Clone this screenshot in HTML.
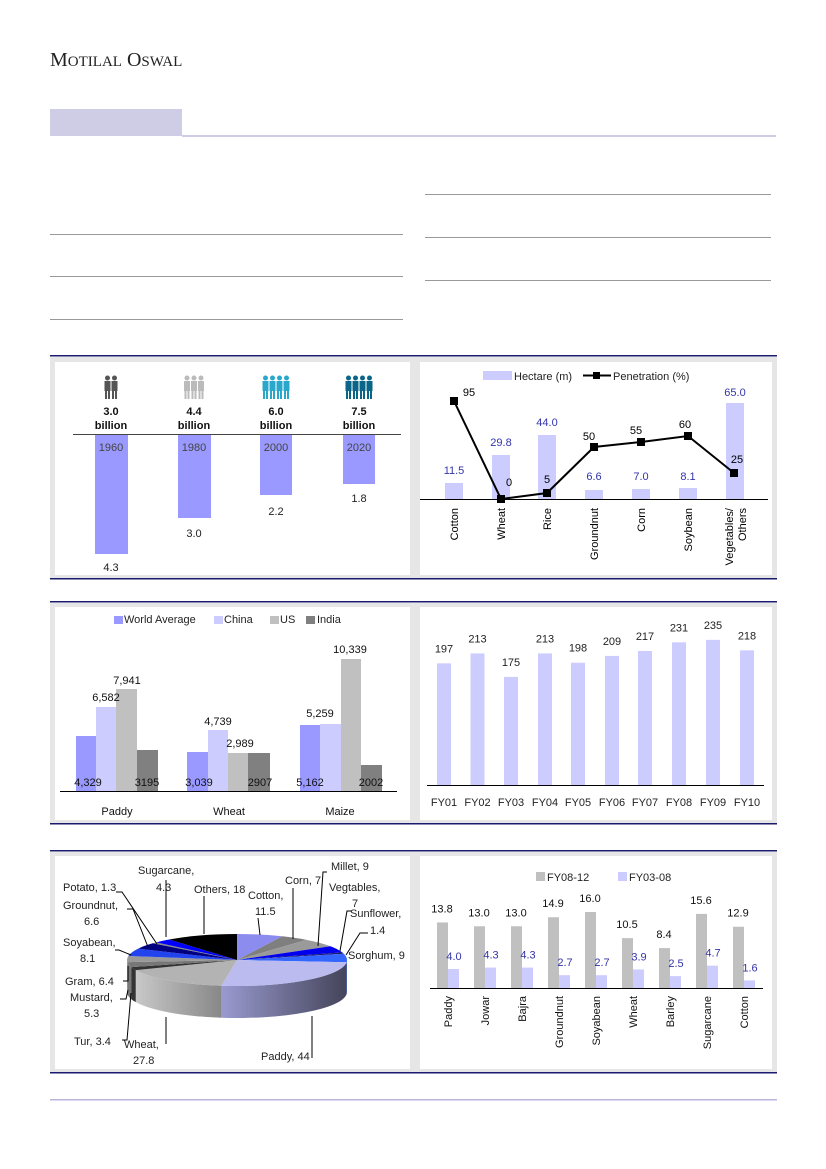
<!DOCTYPE html>
<html><head><meta charset="utf-8"><style>
html,body{margin:0;padding:0;background:#fff;}
svg{display:block;font-family:"Liberation Sans",sans-serif;}
</style></head><body>
<svg id="s" width="826" height="1169" viewBox="0 0 826 1169" xmlns="http://www.w3.org/2000/svg">
<!-- header -->
<text x="50" y="66" font-family="Liberation Serif,serif" font-size="20" fill="#222">M<tspan font-size="15">OTILAL</tspan> O<tspan font-size="15">SWAL</tspan></text>
<rect x="50" y="109" width="132" height="27" fill="#cfcce6"/>
<rect x="182" y="135" width="594" height="2" fill="#cfcce6"/>
<g stroke="#999" stroke-width="1">
<line x1="50" y1="234.5" x2="403" y2="234.5"/><line x1="50" y1="276.5" x2="403" y2="276.5"/><line x1="50" y1="319.5" x2="403" y2="319.5"/>
<line x1="425" y1="194.5" x2="771" y2="194.5"/><line x1="425" y1="237.5" x2="771" y2="237.5"/><line x1="425" y1="280.5" x2="771" y2="280.5"/>
</g>
<!-- panel frames -->
<g fill="#e6e6e6">
<rect x="50" y="357" width="727" height="221"/>
<rect x="50" y="603" width="727" height="220"/>
<rect x="50" y="852" width="727" height="220"/>
</g>
<g fill="#fff">
<rect x="55" y="362" width="355" height="213"/><rect x="420" y="362" width="352" height="213"/>
<rect x="55" y="607" width="355" height="213"/><rect x="420" y="607" width="352" height="213"/>
<rect x="55" y="856" width="355" height="213"/><rect x="420" y="856" width="352" height="213"/>
</g>
<g fill="#1a1a6e">
<rect x="50" y="355" width="727" height="1.5"/><rect x="50" y="578" width="727" height="1.5"/>
<rect x="50" y="601" width="727" height="1.5"/><rect x="50" y="823" width="727" height="1.5"/>
<rect x="50" y="850" width="727" height="1.5"/><rect x="50" y="1072" width="727" height="1.5"/>
</g>
<rect x="50" y="1099" width="727" height="1.5" fill="#b8b4dc"/>

<!-- chart 1 -->
<g font-size="11" text-anchor="middle">
<g fill="#9999ff">
<rect x="95" y="434" width="33" height="120"/><rect x="178" y="434" width="33" height="84"/>
<rect x="260" y="434" width="32" height="61"/><rect x="343" y="434" width="32" height="50"/>
</g>
<line x1="73" y1="434.5" x2="401" y2="434.5" stroke="#444" stroke-width="1"/>
<g fill="#444"><text x="111" y="451">1960</text><text x="194" y="451">1980</text><text x="276" y="451">2000</text><text x="359" y="451">2020</text></g>
<g fill="#222"><text x="111" y="571">4.3</text><text x="194" y="537">3.0</text><text x="276" y="515">2.2</text><text x="359" y="502">1.8</text></g>
<g fill="#111" font-weight="bold"><text x="111" y="415">3.0</text><text x="111" y="429">billion</text>
<text x="194" y="415">4.4</text><text x="194" y="429">billion</text>
<text x="276" y="415">6.0</text><text x="276" y="429">billion</text>
<text x="359" y="415">7.5</text><text x="359" y="429">billion</text></g>
</g>
<g id="icons"></g>

<!-- chart 2 -->
<g font-size="11">
<g fill="#ccccff">
<rect x="445" y="483" width="18" height="16"/><rect x="492" y="455" width="18" height="44"/>
<rect x="538" y="435" width="18" height="64"/><rect x="585" y="490" width="18" height="9"/>
<rect x="632" y="489" width="18" height="10"/><rect x="679" y="488" width="18" height="11"/>
<rect x="726" y="403" width="18" height="96"/>
</g>
<line x1="420" y1="499.5" x2="768" y2="499.5" stroke="#000"/>
<polyline points="454,401 501,499 547,493 594,447 641,442 688,436 734,473" fill="none" stroke="#000" stroke-width="2"/>
<g fill="#000"><rect x="450" y="397" width="8" height="8"/><rect x="497" y="495" width="8" height="8"/><rect x="543" y="489" width="8" height="8"/><rect x="590" y="443" width="8" height="8"/><rect x="637" y="438" width="8" height="8"/><rect x="684" y="432" width="8" height="8"/><rect x="730" y="469" width="8" height="8"/></g>
<g fill="#3333aa" text-anchor="middle"><text x="454" y="474">11.5</text><text x="501" y="446">29.8</text><text x="547" y="426">44.0</text><text x="594" y="480">6.6</text><text x="641" y="480">7.0</text><text x="688" y="480">8.1</text><text x="735" y="396">65.0</text></g>
<g fill="#000" text-anchor="middle"><text x="469" y="396">95</text><text x="509" y="486">0</text><text x="547" y="483">5</text><text x="589" y="440">50</text><text x="636" y="434">55</text><text x="685" y="428">60</text><text x="737" y="463">25</text></g>
<rect x="483" y="371" width="29" height="9" fill="#ccccff"/><text x="514" y="380" fill="#222">Hectare (m)</text>
<line x1="583" y1="375.5" x2="611" y2="375.5" stroke="#000" stroke-width="2"/><rect x="593" y="372" width="7" height="7"/><text x="613" y="380" fill="#222">Penetration (%)</text>
<g fill="#000" text-anchor="end">
<text transform="translate(458,508) rotate(-90)">Cotton</text>
<text transform="translate(505,508) rotate(-90)">Wheat</text>
<text transform="translate(551,508) rotate(-90)">Rice</text>
<text transform="translate(598,508) rotate(-90)">Groundnut</text>
<text transform="translate(645,508) rotate(-90)">Corn</text>
<text transform="translate(692,508) rotate(-90)">Soybean</text>
<text transform="translate(733,508) rotate(-90)">Vegetables/</text>
<text transform="translate(746,508) rotate(-90)">Others</text>
</g>
</g>

<!-- chart 3 -->
<g font-size="11">
<g fill="#9999ff"><rect x="76" y="736" width="20" height="55"/><rect x="187" y="752" width="21" height="39"/><rect x="300" y="725" width="20" height="66"/></g>
<g fill="#ccccff"><rect x="96" y="707" width="20" height="84"/><rect x="208" y="730" width="20" height="61"/><rect x="320" y="724" width="21" height="67"/></g>
<g fill="#c0c0c0"><rect x="116" y="689" width="21" height="102"/><rect x="228" y="753" width="20" height="38"/><rect x="341" y="659" width="20" height="132"/></g>
<g fill="#808080"><rect x="137" y="750" width="21" height="41"/><rect x="248" y="753" width="22" height="38"/><rect x="361" y="765" width="21" height="26"/></g>
<line x1="60" y1="791.5" x2="397" y2="791.5" stroke="#000"/>
<g fill="#111" text-anchor="middle">
<text x="88" y="786">4,329</text><text x="147" y="786">3195</text><text x="106" y="701">6,582</text><text x="127" y="684">7,941</text>
<text x="218" y="725">4,739</text><text x="240" y="747">2,989</text><text x="199" y="786">3,039</text><text x="260" y="786">2907</text>
<text x="320" y="717">5,259</text><text x="350" y="653">10,339</text><text x="310" y="786">5,162</text><text x="371" y="786">2002</text>
<text x="117" y="815">Paddy</text><text x="229" y="815">Wheat</text><text x="340" y="815">Maize</text>
</g>
<rect x="114" y="616" width="9" height="8" fill="#9999ff"/><text x="124" y="623" fill="#222">World Average</text>
<rect x="214" y="616" width="9" height="8" fill="#ccccff"/><text x="224" y="623" fill="#222">China</text>
<rect x="270" y="616" width="9" height="8" fill="#c0c0c0"/><text x="280" y="623" fill="#222">US</text>
<rect x="306" y="616" width="9" height="8" fill="#808080"/><text x="317" y="623" fill="#222">India</text>
</g>

<!-- chart 4 -->
<g font-size="11" id="c4"></g>

<!-- chart 5 pie -->
<g id="pie"></g>
<g font-size="11" fill="#222">
<text x="138" y="874">Sugarcane,</text><text x="156" y="891">4.3</text>
<text x="63" y="891">Potato, 1.3</text>
<text x="63" y="909">Groundnut,</text><text x="84" y="925">6.6</text>
<text x="63" y="946">Soyabean,</text><text x="80" y="962">8.1</text>
<text x="65" y="985">Gram, 6.4</text>
<text x="70" y="1001">Mustard,</text><text x="84" y="1017">5.3</text>
<text x="74" y="1045">Tur, 3.4</text>
<text x="124" y="1048">Wheat,</text><text x="133" y="1064">27.8</text>
<text x="261" y="1060">Paddy, 44</text>
<text x="194" y="893">Others, 18</text>
<text x="248" y="899">Cotton,</text><text x="255" y="915">11.5</text>
<text x="285" y="884">Corn, 7</text>
<text x="331" y="870">Millet, 9</text>
<text x="329" y="891">Vegtables,</text><text x="352" y="907">7</text>
<text x="350" y="917">Sunflower,</text><text x="370" y="934">1.4</text>
<text x="348" y="959">Sorghum, 9</text>
</g>
<g fill="none" stroke="#000" stroke-width="1">
<polyline points="116,892 122,892 157,944"/>
<polyline points="127,909 133,909 148,947"/>
<polyline points="115,950 119,950 131,955"/>
<polyline points="123,981 128,981 128,966"/>
<polyline points="120,999 126,999 128,990"/>
<polyline points="122,1040 127,1040 131,993"/>
<polyline points="166,1044 166,1017"/>
<polyline points="312,1058 312,1016"/>
<polyline points="166,880 166,937"/>
<polyline points="204,896 204,934"/>
<polyline points="258,918 260,935"/>
<polyline points="293,888 293,939"/>
<polyline points="327,872 323,872 318,946"/>
<polyline points="351,911 347,911 340,951"/>
<polyline points="368,933 360,933 346,955"/>
</g>

<!-- chart 6 -->
<g font-size="11" id="c6"></g>
<rect x="536" y="872" width="9" height="9" fill="#c0c0c0"/><text x="547" y="881" font-size="11" fill="#222">FY08-12</text>
<rect x="618" y="872" width="9" height="9" fill="#ccccff"/><text x="629" y="881" font-size="11" fill="#222">FY03-08</text>
</svg>
<script>
var NS="http://www.w3.org/2000/svg";
function el(p,t,a,txt){var e=document.createElementNS(NS,t);for(var k in a)e.setAttribute(k,a[k]);if(txt!==undefined)e.textContent=txt;p.appendChild(e);return e;}
// icons
var ic=document.getElementById('icons');
[[111,'#555'],[194,'#bbb'],[276,'#2aa8cc'],[359,'#0a6688']].forEach(function(d,i){
 var n=[2,3,4,4][i];var w=7;var x0=d[0]-n*w/2;
 for(var j=0;j<n;j++){var x=x0+j*w+3.5;
  el(ic,'circle',{cx:x,cy:378,r:2.5,fill:d[1]});
  el(ic,'rect',{x:x-3,y:381,width:6,height:10,fill:d[1]});
  el(ic,'rect',{x:x-2.5,y:390,width:2,height:9,fill:d[1]});
  el(ic,'rect',{x:x+0.5,y:390,width:2,height:9,fill:d[1]});}
});
// chart4
var c4=document.getElementById('c4');
var v4=[197,213,175,213,198,209,217,231,235,218],cx4=[444,477.5,511,545,578,612,645,679,713,747];
v4.forEach(function(v,i){var h=v*0.519;var y=785-h*1.19;
 el(c4,'rect',{x:cx4[i]-7,y:y,width:14,height:785-y,fill:'#ccccff'});
 el(c4,'text',{x:cx4[i],y:y-11,'text-anchor':'middle',fill:'#222'},String(v));
 el(c4,'text',{x:cx4[i],y:806,'text-anchor':'middle',fill:'#222'},'FY'+(i<9?'0':'')+(i+1));
});
el(c4,'line',{x1:427,y1:785.5,x2:764,y2:785.5,stroke:'#000'});
// chart6
var c6=document.getElementById('c6');
var g6=[13.8,13.0,13.0,14.9,16.0,10.5,8.4,15.6,12.9],l6=[4.0,4.3,4.3,2.7,2.7,3.9,2.5,4.7,1.6];
var n6=['Paddy','Jowar','Bajra','Groundnut','Soyabean','Wheat','Barley','Sugarcane','Cotton'];
var cx6=[448,485,522,559,596,633,670,707,744];
for(var i=0;i<9;i++){var x=cx6[i];var hg=g6[i]*4.75,hl=l6[i]*4.75;
 el(c6,'rect',{x:x-11,y:988-hg,width:11,height:hg,fill:'#c0c0c0'});
 el(c6,'rect',{x:x,y:988-hl,width:11,height:hl,fill:'#ccccff'});
 el(c6,'text',{x:x-6,y:988-hg-10,'text-anchor':'middle',fill:'#111'},g6[i].toFixed(1));
 el(c6,'text',{x:x+6,y:988-hl-9,'text-anchor':'middle',fill:'#3333aa'},l6[i].toFixed(1));
 el(c6,'text',{transform:'translate('+(x+4)+',996) rotate(-90)','text-anchor':'end',fill:'#111'},n6[i]);
}
el(c6,'line',{x1:430,y1:988.5,x2:763,y2:988.5,stroke:'#000'});
// pie
var pie=document.getElementById('pie');
var cx=237,cy=960,rx=110,ry=26,d=32;
var sl=[[11.5,'#8c8cee'],[7,'#7f7f7f'],[9,'#9a9a9a'],[7,'#0000ee'],[1.4,'#1a1a70'],[9,'#3366ff'],[44,'#bbbbef'],[27.8,'#b3b3b3'],[3.4,'#333'],[5.3,'#777'],[6.4,'#999'],[8.1,'#2244ee'],[6.6,'#000080'],[1.3,'#888'],[4.3,'#0000ff'],[18,'#000']];
var tot=0;sl.forEach(function(s){tot+=s[0];});
function pt(a,dy){return [cx+rx*Math.sin(a),cy-ry*Math.cos(a)+(dy||0)];}
var defs=el(pie,'defs',{});
var lg=el(defs,'linearGradient',{id:'gp',x1:'0',x2:'1',y1:'0',y2:'0'});
el(lg,'stop',{offset:'0','stop-color':'#9a9ad0'});el(lg,'stop',{offset:'1','stop-color':'#44445a'});
var lg2=el(defs,'linearGradient',{id:'gw',x1:'0',x2:'1',y1:'0',y2:'0'});
el(lg2,'stop',{offset:'0','stop-color':'#c8c8c8'});el(lg2,'stop',{offset:'1','stop-color':'#888'});
var a=0,arr=[];
sl.forEach(function(s){var b=a+s[0]/tot*2*Math.PI;arr.push([a,b,s[1]]);a=b;});
// sides
arr.forEach(function(s,i){var a0=Math.max(s[0],Math.PI/2),a1=Math.min(s[1],3*Math.PI/2);if(a1<=a0)return;
 var p0=pt(a0),p1=pt(a1),q1=pt(a1,d),q0=pt(a0,d);
 var f=i==6?'url(#gp)':(i==7?'url(#gw)':s[2]);
 el(pie,'path',{d:'M'+p0+' A'+rx+','+ry+' 0 0 1 '+p1+' L'+q1+' A'+rx+','+ry+' 0 0 0 '+q0+' Z',fill:f});
});
arr.forEach(function(s){var p0=pt(s[0]),p1=pt(s[1]);var lf=(s[1]-s[0])>Math.PI?1:0;
 el(pie,'path',{d:'M'+cx+','+cy+' L'+p0+' A'+rx+','+ry+' 0 '+lf+' 1 '+p1+' Z',fill:s[2]});
});
</script>
</body></html>
